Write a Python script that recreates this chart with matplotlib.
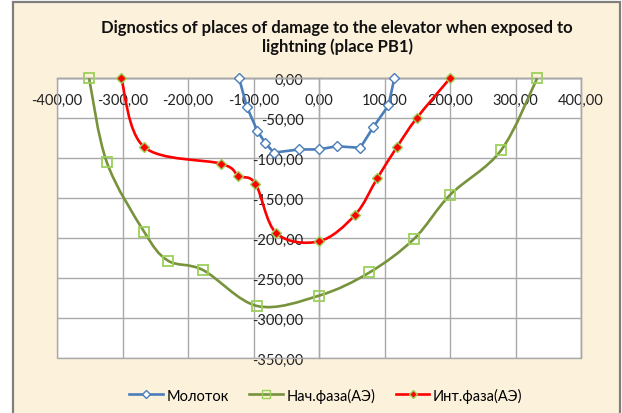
import numpy as np
import matplotlib
matplotlib.use("Agg")
import matplotlib.pyplot as plt
from matplotlib.path import Path
from matplotlib.patches import PathPatch, Rectangle
from matplotlib.lines import Line2D
from matplotlib.ticker import FuncFormatter

# ---- data ----
title = "Dignostics of places of damage to the elevator when exposed to\nlightning (place PB1)"
series_names = ["Молоток", "Нач.фаза(АЭ)", "Инт.фаза(АЭ)"]

hammer_x = [-122, -110, -94, -82, -69, -30, 0, 27, 63, 83, 106, 115]
hammer_y = [0, -36, -66, -81, -93, -89, -89, -85, -87, -61, -34, 0]

init_x = [-351, -324, -267, -231, -177, -94, 0, 77, 145, 200, 278, 333]
init_y = [0, -105, -192, -228, -240, -285, -272, -243, -201, -146, -90, 0]

int_x = [-302, -267, -149, -123, -97, -65, 0, 55, 89, 119, 149, 200]
int_y = [0, -86, -107, -122, -132, -194, -204, -171, -125, -86, -50, 0]

x_ticks = [-400, -300, -200, -100, 0, 100, 200, 300, 400]
y_ticks = [0, -50, -100, -150, -200, -250, -300, -350]

FONT = "Lato"
plt.rcParams["font.family"] = [FONT, "DejaVu Sans"]

BG = "#FCF1DB"
GRID = "#A9A9A9"

fig = plt.figure(figsize=(6.22, 4.14), dpi=100)
fig.patch.set_facecolor("white")
# chart area with border
fig.patches.append(Rectangle((13 / 622, -0.05), (620 - 13) / 622, 1.05 - 3 / 414,
                             transform=fig.transFigure, facecolor=BG,
                             edgecolor="#7F7F7F", linewidth=1.6, zorder=-10))

ax = fig.add_axes([57 / 622, 1 - 359 / 414, (581 - 57) / 622, (359 - 79.3) / 414])
ax.set_zorder(1)
ax.set_facecolor("white")
ax.set_xlim(-400, 400)
ax.set_ylim(-350, 0)
ax.set_xticks(x_ticks)
ax.set_yticks(y_ticks)
fmt = FuncFormatter(lambda v, p: f"{v:.2f}".replace(".", ","))
ax.xaxis.set_major_formatter(fmt)
ax.yaxis.set_major_formatter(fmt)
ax.grid(True, color=GRID, linewidth=1.0, zorder=0)
ax.set_axisbelow(True)

ax.spines["bottom"].set_position(("data", 0))
ax.spines["left"].set_position(("data", 0))
for s in ax.spines.values():
    s.set_color(GRID)
    s.set_linewidth(1.0)
ax.add_patch(Rectangle((0, 0), 1, 1, transform=ax.transAxes, fill=False,
                       edgecolor=GRID, linewidth=1.0, zorder=1, clip_on=False))
ax.tick_params(axis="x", length=0, pad=10.5, labelsize=10.5, colors="#222222")
ax.tick_params(axis="y", length=0, pad=11, labelsize=10.5, colors="#222222")


def smooth_path(xs, ys):
    pts = np.column_stack([xs, ys]).astype(float)
    n = len(pts)
    verts = [pts[0]]
    codes = [Path.MOVETO]
    for i in range(n - 1):
        p0 = pts[i - 1] if i > 0 else pts[i]
        p1 = pts[i]
        p2 = pts[i + 1]
        p3 = pts[i + 2] if i + 2 < n else pts[i + 1]
        c1 = p1 + (p2 - p0) / 6.0
        c2 = p2 - (p3 - p1) / 6.0
        verts += [c1, c2, p2]
        codes += [Path.CURVE4] * 3
    return Path(verts, codes)


BLUE = "#4A7EBB"
GREEN = "#77933C"
LGREEN = "#9BD05A"
RED = "#FF0000"

# Молоток: straight segments
ax.plot(hammer_x, hammer_y, color=BLUE, lw=1.9, marker="D", markersize=5.5,
        markerfacecolor="white", markeredgecolor=BLUE, markeredgewidth=1.0,
        zorder=4, clip_on=False)

# Нач.фаза: smoothed
ax.add_patch(PathPatch(smooth_path(init_x, init_y), fill=False, edgecolor=GREEN,
                       lw=1.9, zorder=3, clip_on=False))
ax.plot(init_x, init_y, linestyle="none", marker="s", markersize=7,
        markerfacecolor="none", markeredgecolor=LGREEN, markeredgewidth=1.3,
        zorder=5, clip_on=False)

# Инт.фаза: smoothed
ax.add_patch(PathPatch(smooth_path(int_x, int_y), fill=False, edgecolor=RED,
                       lw=1.9, zorder=3, clip_on=False))
ax.plot(int_x, int_y, linestyle="none", marker="D", markersize=5,
        markerfacecolor=RED, markeredgecolor=LGREEN, markeredgewidth=1.0,
        zorder=5, clip_on=False)

fig.text(337 / 622, 1 - 37.5 / 414, title, ha="center", va="center",
         fontsize=12, fontweight="bold", color="#111111", linespacing=1.25)

handles = [
    Line2D([], [], color=BLUE, lw=1.9, marker="D", markersize=4.5,
           markerfacecolor="white", markeredgecolor=BLUE),
    Line2D([], [], color=GREEN, lw=1.9, marker="s", markersize=6,
           markerfacecolor="none", markeredgecolor=LGREEN),
    Line2D([], [], color=RED, lw=1.9, marker="D", markersize=4.5,
           markerfacecolor=RED, markeredgecolor=LGREEN),
]
fig.legend(handles, series_names, loc="center", bbox_to_anchor=(326 / 622, 1 - 396 / 414),
           ncol=3, frameon=False, fontsize=10.5, handlelength=2.3, handletextpad=0.25,
           columnspacing=1.4)

fig.savefig("out.png", dpi=100, facecolor=fig.get_facecolor())
